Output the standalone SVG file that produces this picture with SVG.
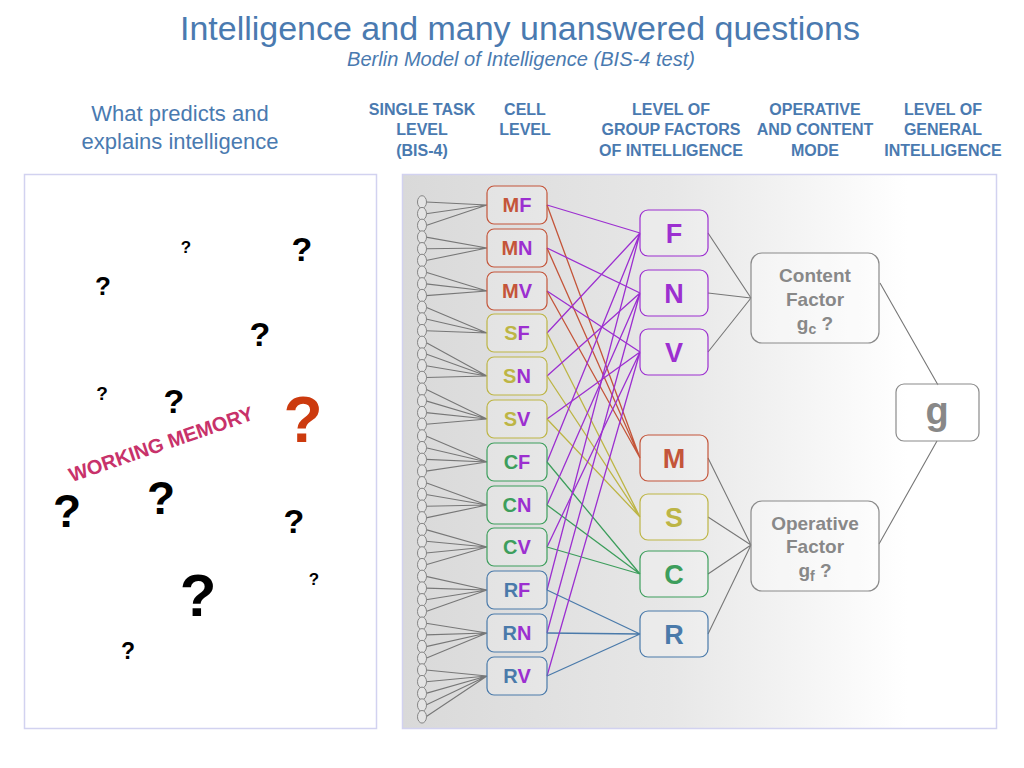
<svg xmlns="http://www.w3.org/2000/svg" width="1024" height="768" viewBox="0 0 1024 768">
<defs>
<linearGradient id="bg" x1="0" y1="0" x2="1" y2="0">
<stop offset="0" stop-color="#d9d9d9"/>
<stop offset="0.45" stop-color="#e7e7e7"/>
<stop offset="0.85" stop-color="#ffffff"/>
<stop offset="1" stop-color="#ffffff"/>
</linearGradient>
<style>
.hd{font-family:"Liberation Sans",Arial,sans-serif;fill:#4a7ab0;text-anchor:middle}
.col{font-size:16px;font-weight:bold}
.q{font-family:"Liberation Sans",Arial,sans-serif;font-weight:bold;fill:#000;text-anchor:middle}
.tsk{fill:#e4e4e4;stroke:#858585;stroke-width:1}
.cell{fill:#ffffff;fill-opacity:0.2;stroke-width:1.2}
.ct{font-family:"Liberation Sans",Arial,sans-serif;font-weight:bold;font-size:20px;text-anchor:middle}
.gt{font-family:"Liberation Sans",Arial,sans-serif;font-weight:bold;font-size:27px;text-anchor:middle}
.ft{font-family:"Liberation Sans",Arial,sans-serif;font-weight:bold;font-size:19px;fill:#888888;text-anchor:middle}
.fac{fill:#ffffff;fill-opacity:0.3;stroke:#8a8a8a;stroke-width:1.2}
.tl{fill:none;stroke:#777777;stroke-width:1.1}
.M{stroke:#c4553a}.S{stroke:#bdb545}.C{stroke:#3d9e5c}.R{stroke:#4a7aaa}.P{stroke:#9c2fd0}
.fM{fill:#c4553a}.fS{fill:#bdb545}.fC{fill:#3d9e5c}.fR{fill:#4a7aaa}.fP{fill:#9c2fd0}
.ln{fill:none;stroke-width:1.3}
</style>
</defs>
<rect width="1024" height="768" fill="#ffffff"/>

<!-- titles -->
<text class="hd" x="520" y="40" font-size="34" textLength="680" lengthAdjust="spacingAndGlyphs">Intelligence and many unanswered questions</text>
<text class="hd" x="521" y="66" font-size="20" font-style="italic" textLength="348" lengthAdjust="spacingAndGlyphs">Berlin Model of Intelligence (BIS-4 test)</text>
<text class="hd" x="180" y="121" font-size="22">What predicts and</text>
<text class="hd" x="180" y="149" font-size="22">explains intelligence</text>
<text class="hd col" x="422" y="115">SINGLE TASK</text>
<text class="hd col" x="422" y="135">LEVEL</text>
<text class="hd col" x="422" y="156">(BIS-4)</text>
<text class="hd col" x="525" y="115">CELL</text>
<text class="hd col" x="525" y="135">LEVEL</text>
<text class="hd col" x="671" y="115">LEVEL OF</text>
<text class="hd col" x="671" y="135">GROUP FACTORS</text>
<text class="hd col" x="671" y="156">OF INTELLIGENCE</text>
<text class="hd col" x="815" y="115">OPERATIVE</text>
<text class="hd col" x="815" y="135">AND CONTENT</text>
<text class="hd col" x="815" y="156">MODE</text>
<text class="hd col" x="943" y="115">LEVEL OF</text>
<text class="hd col" x="943" y="135">GENERAL</text>
<text class="hd col" x="943" y="156">INTELLIGENCE</text>

<!-- left panel -->
<g id="left-panel">
<rect x="24.5" y="174.5" width="352" height="554" fill="#ffffff" stroke="#d2d2f0" stroke-width="1.5"/>
<text class="q" x="186" y="253" font-size="17">?</text>
<text class="q" x="302" y="261" font-size="34">?</text>
<text class="q" x="103" y="295" font-size="26">?</text>
<text class="q" x="260" y="346" font-size="34">?</text>
<text class="q" x="102" y="400" font-size="19">?</text>
<text class="q" x="174" y="413" font-size="34">?</text>
<text class="q" x="303" y="442" font-size="64" style="fill:#cc3a0e">?</text>
<text class="q" x="67" y="527" font-size="46">?</text>
<text class="q" x="161" y="514" font-size="46">?</text>
<text class="q" x="294" y="533" font-size="34">?</text>
<text class="q" x="314" y="585" font-size="17">?</text>
<text class="q" x="198" y="616" font-size="60">?</text>
<text class="q" x="128" y="659" font-size="23">?</text>
<text transform="translate(161,444) rotate(-19)" x="0" y="7" font-family="Liberation Sans, Arial, sans-serif" font-weight="bold" font-size="20" fill="#c8326a" text-anchor="middle">WORKING MEMORY</text>
</g>

<!-- right panel background -->
<rect x="402.5" y="174.5" width="594" height="554" fill="url(#bg)" stroke="#d2d2f0" stroke-width="1.5"/>

<!-- connectors -->
<g id="connectors">
<path class="tl" d="M426 202L487 205M426 213.7L487 205M426 225.4L487 205"/>
<path class="tl" d="M426 237.1L487 248M426 248.8L487 248M426 260.5L487 248"/>
<path class="tl" d="M426 272.2L487 291M426 283.9L487 291M426 295.6L487 291"/>
<path class="tl" d="M426 307.3L487 333M426 319L487 333M426 330.7L487 333"/>
<path class="tl" d="M426 342.4L487 376M426 354.1L487 376M426 365.8L487 376M426 377.5L487 376"/>
<path class="tl" d="M426 389.2L487 419M426 400.9L487 419M426 412.6L487 419M426 424.3L487 419"/>
<path class="tl" d="M426 436L487 462M426 447.7L487 462M426 459.4L487 462M426 471.1L487 462"/>
<path class="tl" d="M426 482.8L487 505M426 494.5L487 505M426 506.2L487 505M426 517.9L487 505"/>
<path class="tl" d="M426 529.6L487 547M426 541.3L487 547M426 553L487 547M426 564.7L487 547"/>
<path class="tl" d="M426 576.4L487 590M426 588.1L487 590M426 599.8L487 590M426 611.5L487 590"/>
<path class="tl" d="M426 623.2L487 633M426 634.9L487 633M426 646.6L487 633M426 658.3L487 633"/>
<path class="tl" d="M426 670L487 676M426 681.7L487 676M426 693.4L487 676M426 705.1L487 676M426 716.8L487 676"/>

<path class="ln M" d="M547 205L640 458M547 248L640 458M547 291L640 458"/>
<path class="ln S" d="M547 333L640 517M547 376L640 517M547 419L640 517"/>
<path class="ln C" d="M547 462L640 574M547 505L640 574M547 547L640 574"/>
<path class="ln R" d="M547 590L640 634M547 633L640 634M547 676L640 634"/>
<path class="ln P" d="M547 205L640 233M547 333L640 233M547 462L640 233M547 590L640 233"/>
<path class="ln P" d="M547 248L640 293M547 376L640 293M547 505L640 293M547 633L640 293"/>
<path class="ln P" d="M547 291L640 352M547 419L640 352M547 547L640 352M547 676L640 352"/>

<path class="tl" d="M708 233L751 298M708 293L751 298M708 352L751 298"/>
<path class="tl" d="M708 458L751 545M708 517L751 545M708 574L751 545M708 634L751 545"/>
<path class="tl" d="M880 283L938 385M937 441L879 544"/>
</g>

<!-- single task ellipses -->
<g id="tasks">
<ellipse class="tsk" cx="422" cy="202" rx="4.5" ry="6.3"/>
<ellipse class="tsk" cx="422" cy="213.7" rx="4.5" ry="6.3"/>
<ellipse class="tsk" cx="422" cy="225.4" rx="4.5" ry="6.3"/>
<ellipse class="tsk" cx="422" cy="237.1" rx="4.5" ry="6.3"/>
<ellipse class="tsk" cx="422" cy="248.8" rx="4.5" ry="6.3"/>
<ellipse class="tsk" cx="422" cy="260.5" rx="4.5" ry="6.3"/>
<ellipse class="tsk" cx="422" cy="272.2" rx="4.5" ry="6.3"/>
<ellipse class="tsk" cx="422" cy="283.9" rx="4.5" ry="6.3"/>
<ellipse class="tsk" cx="422" cy="295.6" rx="4.5" ry="6.3"/>
<ellipse class="tsk" cx="422" cy="307.3" rx="4.5" ry="6.3"/>
<ellipse class="tsk" cx="422" cy="319" rx="4.5" ry="6.3"/>
<ellipse class="tsk" cx="422" cy="330.7" rx="4.5" ry="6.3"/>
<ellipse class="tsk" cx="422" cy="342.4" rx="4.5" ry="6.3"/>
<ellipse class="tsk" cx="422" cy="354.1" rx="4.5" ry="6.3"/>
<ellipse class="tsk" cx="422" cy="365.8" rx="4.5" ry="6.3"/>
<ellipse class="tsk" cx="422" cy="377.5" rx="4.5" ry="6.3"/>
<ellipse class="tsk" cx="422" cy="389.2" rx="4.5" ry="6.3"/>
<ellipse class="tsk" cx="422" cy="400.9" rx="4.5" ry="6.3"/>
<ellipse class="tsk" cx="422" cy="412.6" rx="4.5" ry="6.3"/>
<ellipse class="tsk" cx="422" cy="424.3" rx="4.5" ry="6.3"/>
<ellipse class="tsk" cx="422" cy="436" rx="4.5" ry="6.3"/>
<ellipse class="tsk" cx="422" cy="447.7" rx="4.5" ry="6.3"/>
<ellipse class="tsk" cx="422" cy="459.4" rx="4.5" ry="6.3"/>
<ellipse class="tsk" cx="422" cy="471.1" rx="4.5" ry="6.3"/>
<ellipse class="tsk" cx="422" cy="482.8" rx="4.5" ry="6.3"/>
<ellipse class="tsk" cx="422" cy="494.5" rx="4.5" ry="6.3"/>
<ellipse class="tsk" cx="422" cy="506.2" rx="4.5" ry="6.3"/>
<ellipse class="tsk" cx="422" cy="517.9" rx="4.5" ry="6.3"/>
<ellipse class="tsk" cx="422" cy="529.6" rx="4.5" ry="6.3"/>
<ellipse class="tsk" cx="422" cy="541.3" rx="4.5" ry="6.3"/>
<ellipse class="tsk" cx="422" cy="553" rx="4.5" ry="6.3"/>
<ellipse class="tsk" cx="422" cy="564.7" rx="4.5" ry="6.3"/>
<ellipse class="tsk" cx="422" cy="576.4" rx="4.5" ry="6.3"/>
<ellipse class="tsk" cx="422" cy="588.1" rx="4.5" ry="6.3"/>
<ellipse class="tsk" cx="422" cy="599.8" rx="4.5" ry="6.3"/>
<ellipse class="tsk" cx="422" cy="611.5" rx="4.5" ry="6.3"/>
<ellipse class="tsk" cx="422" cy="623.2" rx="4.5" ry="6.3"/>
<ellipse class="tsk" cx="422" cy="634.9" rx="4.5" ry="6.3"/>
<ellipse class="tsk" cx="422" cy="646.6" rx="4.5" ry="6.3"/>
<ellipse class="tsk" cx="422" cy="658.3" rx="4.5" ry="6.3"/>
<ellipse class="tsk" cx="422" cy="670" rx="4.5" ry="6.3"/>
<ellipse class="tsk" cx="422" cy="681.7" rx="4.5" ry="6.3"/>
<ellipse class="tsk" cx="422" cy="693.4" rx="4.5" ry="6.3"/>
<ellipse class="tsk" cx="422" cy="705.1" rx="4.5" ry="6.3"/>
<ellipse class="tsk" cx="422" cy="716.8" rx="4.5" ry="6.3"/>
</g>

<!-- cell nodes -->
<g id="cell-MF"><rect class="cell M" x="487" y="186" width="60" height="38" rx="7"/><text class="ct" x="517" y="212"><tspan class="fM">M</tspan><tspan class="fP">F</tspan></text></g>
<g id="cell-MN"><rect class="cell M" x="487" y="229" width="60" height="38" rx="7"/><text class="ct" x="517" y="255"><tspan class="fM">M</tspan><tspan class="fP">N</tspan></text></g>
<g id="cell-MV"><rect class="cell M" x="487" y="272" width="60" height="38" rx="7"/><text class="ct" x="517" y="298"><tspan class="fM">M</tspan><tspan class="fP">V</tspan></text></g>
<g id="cell-SF"><rect class="cell S" x="487" y="314" width="60" height="38" rx="7"/><text class="ct" x="517" y="340"><tspan class="fS">S</tspan><tspan class="fP">F</tspan></text></g>
<g id="cell-SN"><rect class="cell S" x="487" y="357" width="60" height="38" rx="7"/><text class="ct" x="517" y="383"><tspan class="fS">S</tspan><tspan class="fP">N</tspan></text></g>
<g id="cell-SV"><rect class="cell S" x="487" y="400" width="60" height="38" rx="7"/><text class="ct" x="517" y="426"><tspan class="fS">S</tspan><tspan class="fP">V</tspan></text></g>
<g id="cell-CF"><rect class="cell C" x="487" y="443" width="60" height="38" rx="7"/><text class="ct" x="517" y="469"><tspan class="fC">C</tspan><tspan class="fP">F</tspan></text></g>
<g id="cell-CN"><rect class="cell C" x="487" y="486" width="60" height="38" rx="7"/><text class="ct" x="517" y="512"><tspan class="fC">C</tspan><tspan class="fP">N</tspan></text></g>
<g id="cell-CV"><rect class="cell C" x="487" y="528" width="60" height="38" rx="7"/><text class="ct" x="517" y="554"><tspan class="fC">C</tspan><tspan class="fP">V</tspan></text></g>
<g id="cell-RF"><rect class="cell R" x="487" y="571" width="60" height="38" rx="7"/><text class="ct" x="517" y="597"><tspan class="fR">R</tspan><tspan class="fP">F</tspan></text></g>
<g id="cell-RN"><rect class="cell R" x="487" y="614" width="60" height="38" rx="7"/><text class="ct" x="517" y="640"><tspan class="fR">R</tspan><tspan class="fP">N</tspan></text></g>
<g id="cell-RV"><rect class="cell R" x="487" y="657" width="60" height="38" rx="7"/><text class="ct" x="517" y="683"><tspan class="fR">R</tspan><tspan class="fP">V</tspan></text></g>

<!-- group factor nodes -->
<g id="group-F"><rect class="cell P" x="640" y="210" width="68" height="46" rx="8"/><text class="gt fP" x="674" y="243">F</text></g>
<g id="group-N"><rect class="cell P" x="640" y="270" width="68" height="46" rx="8"/><text class="gt fP" x="674" y="303">N</text></g>
<g id="group-V"><rect class="cell P" x="640" y="329" width="68" height="46" rx="8"/><text class="gt fP" x="674" y="362">V</text></g>
<g id="group-M"><rect class="cell M" x="640" y="435" width="68" height="46" rx="8"/><text class="gt fM" x="674" y="468">M</text></g>
<g id="group-S"><rect class="cell S" x="640" y="494" width="68" height="46" rx="8"/><text class="gt fS" x="674" y="527">S</text></g>
<g id="group-C"><rect class="cell C" x="640" y="551" width="68" height="46" rx="8"/><text class="gt fC" x="674" y="584">C</text></g>
<g id="group-R"><rect class="cell R" x="640" y="611" width="68" height="46" rx="8"/><text class="gt fR" x="674" y="644">R</text></g>

<!-- factor nodes -->
<g id="content-factor"><rect class="fac" x="751" y="253" width="128" height="90" rx="11"/>
<text class="ft" x="815" y="282">Content</text><text class="ft" x="815" y="306">Factor</text>
<text class="ft" x="815" y="330">g<tspan font-size="14" dy="4">c</tspan><tspan dy="-4"> ?</tspan></text></g>
<g id="operative-factor"><rect class="fac" x="751" y="501" width="128" height="90" rx="11"/>
<text class="ft" x="815" y="530">Operative</text><text class="ft" x="815" y="553">Factor</text>
<text class="ft" x="815" y="577">g<tspan font-size="14" dy="4">f</tspan><tspan dy="-4"> ?</tspan></text></g>
<g id="g-node"><rect class="fac" x="896" y="384" width="83" height="57" rx="8"/>
<text class="ft" x="937" y="424" style="font-size:38px">g</text></g>
</svg>
